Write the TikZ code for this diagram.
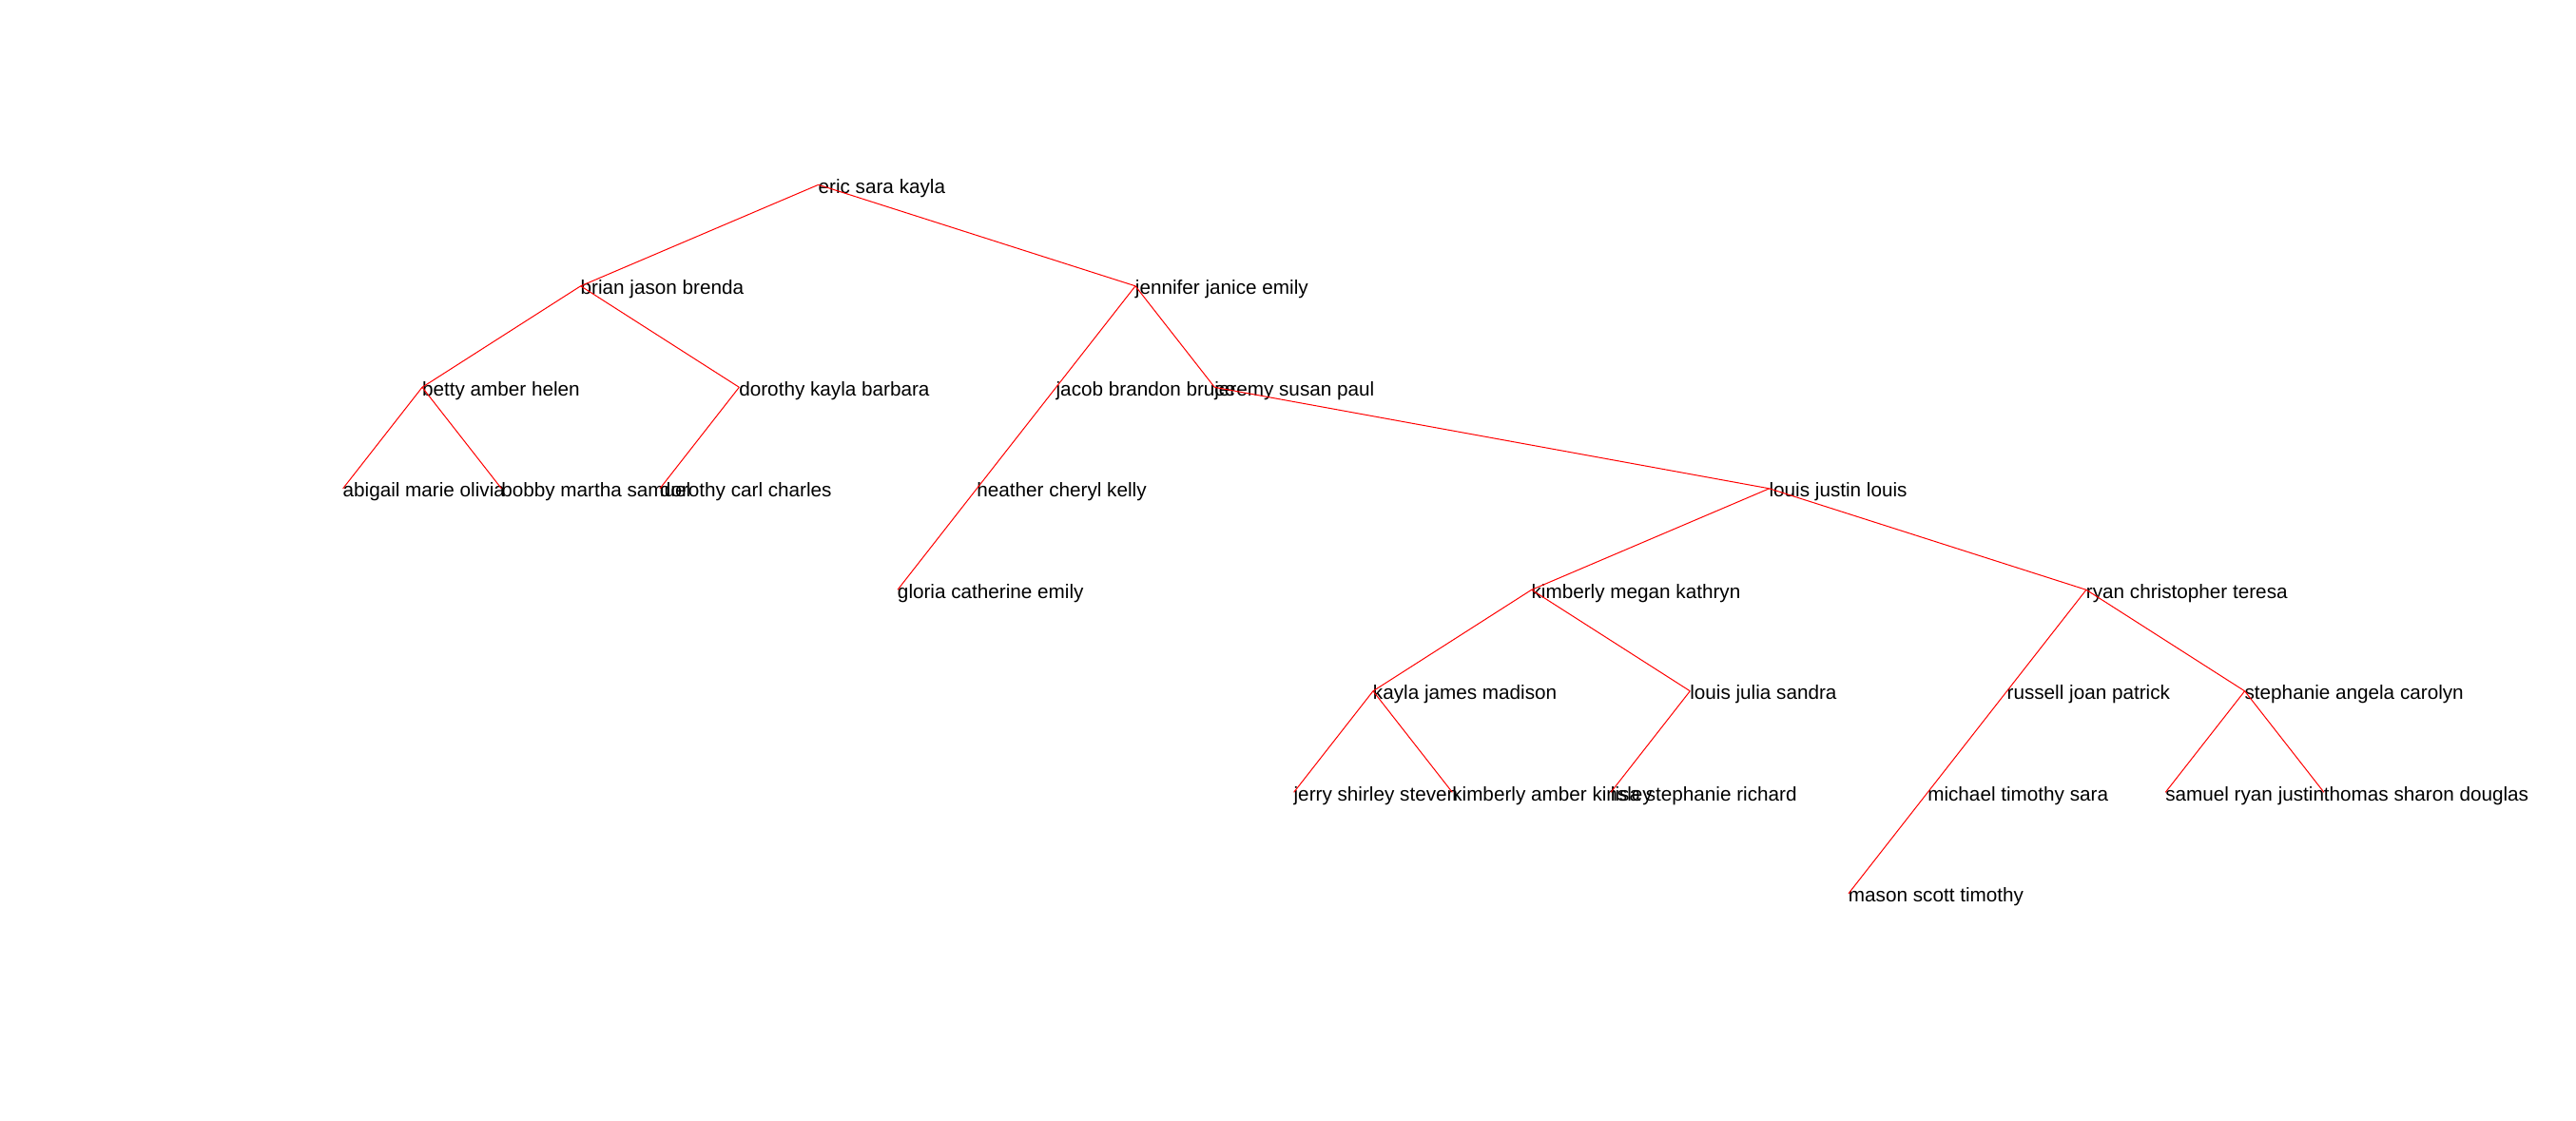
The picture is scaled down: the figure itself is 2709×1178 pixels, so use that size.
\documentclass[tikz,border=0pt]{standalone}
\usepackage{fontspec}
\setmainfont{Liberation Sans}
\begin{document}
\begin{tikzpicture}[x=0.5pt,y=-0.5pt,
  person/.style={anchor=west,inner sep=0pt,outer sep=0pt,text height=8.7pt,text depth=0pt,
    font=\fontsize{10.35}{12}\selectfont},
  link/.style={draw=red,line width=0.5pt}]
\useasboundingbox (0,0) rectangle (2709,1178);
\newcommand{\pn}[4]{\node[person] (#1) at ({27.35+83.33*#2},{194.3+106.5*#3}) {#4};}
\pn{abigail}{4}{3}{abigail marie olivia}
\pn{betty}{5}{2}{betty amber helen}
\pn{bobby}{6}{3}{bobby martha samuel}
\pn{brian}{7}{1}{brian jason brenda}
\pn{dorothyc}{8}{3}{dorothy carl charles}
\pn{dorothyk}{9}{2}{dorothy kayla barbara}
\pn{eric}{10}{0}{eric sara kayla}
\pn{gloria}{11}{4}{gloria catherine emily}
\pn{heather}{12}{3}{heather cheryl kelly}
\pn{jacob}{13}{2}{jacob brandon bruce}
\pn{jennifer}{14}{1}{jennifer janice emily}
\pn{jeremy}{15}{2}{jeremy susan paul}
\pn{jerry}{16}{6}{jerry shirley steven}
\pn{kayla}{17}{5}{kayla james madison}
\pn{kimberlya}{18}{6}{kimberly amber kinsley}
\pn{kimberlym}{19}{4}{kimberly megan kathryn}
\pn{lisa}{20}{6}{lisa stephanie richard}
\pn{louisjs}{21}{5}{louis julia sandra}
\pn{louisjl}{22}{3}{louis justin louis}
\pn{mason}{23}{7}{mason scott timothy}
\pn{michael}{24}{6}{michael timothy sara}
\pn{russell}{25}{5}{russell joan patrick}
\pn{ryan}{26}{4}{ryan christopher teresa}
\pn{samuel}{27}{6}{samuel ryan justin}
\pn{stephanie}{28}{5}{stephanie angela carolyn}
\pn{thomas}{29}{6}{thomas sharon douglas}
\foreach \a/\b in {eric/brian,eric/jennifer,brian/betty,brian/dorothyk,betty/abigail,betty/bobby,
  dorothyk/dorothyc,jennifer/jacob,jennifer/jeremy,jacob/heather,heather/gloria,jeremy/louisjl,
  louisjl/kimberlym,louisjl/ryan,kimberlym/kayla,kimberlym/louisjs,kayla/jerry,kayla/kimberlya,
  louisjs/lisa,ryan/russell,ryan/stephanie,russell/michael,michael/mason,stephanie/samuel,stephanie/thomas}
  \draw[link] (\a.west) -- (\b.west);
\end{tikzpicture}
\end{document}
